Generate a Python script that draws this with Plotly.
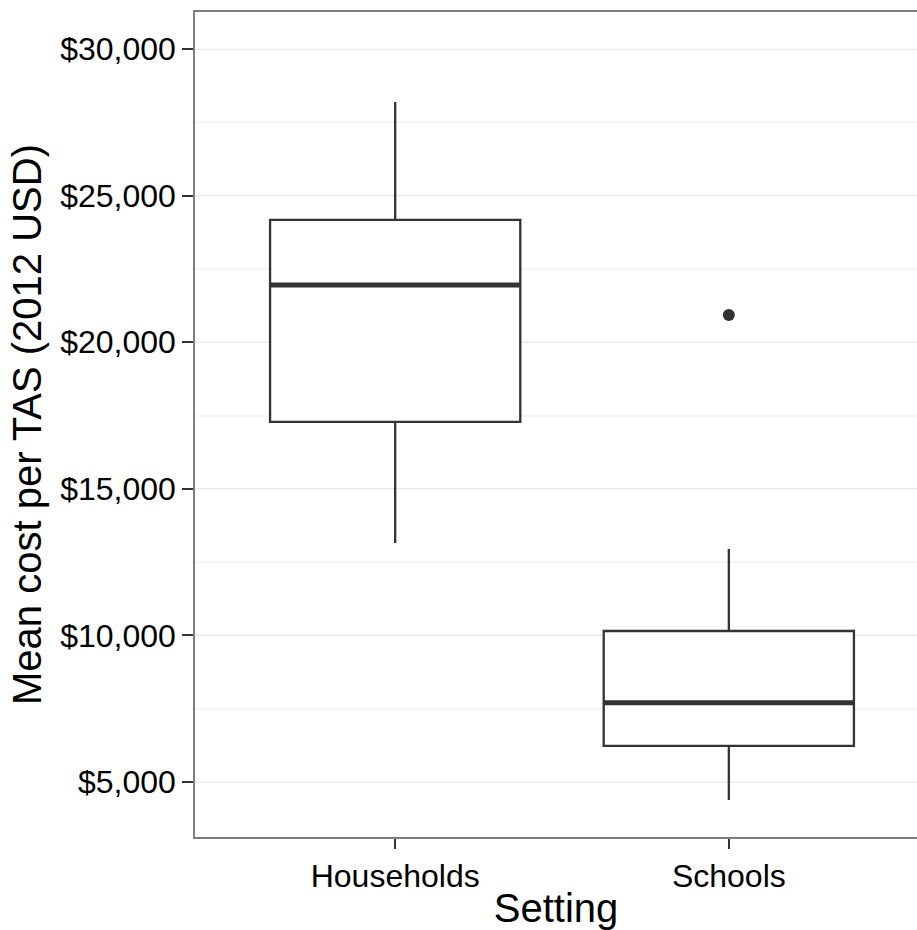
import plotly.graph_objects as go

categories = ["Households", "Schools"]
lower_whisker = [13150, 4390]
q1 = [17280, 6230]
median = [21950, 7700]
q3 = [24170, 10150]
upper_whisker = [28190, 12950]
outlier_x = ["Schools"]
outlier_y = [20930]
y_tick_values = [5000, 10000, 15000, 20000, 25000, 30000]
y_tick_labels = ["$5,000", "$10,000", "$15,000", "$20,000", "$25,000", "$30,000"]

xpos = list(range(len(categories)))
box_w = 0.75
line_col = "#333333"
font_fam = "Liberation Sans, Arial, sans-serif"

fig = go.Figure()
fig.add_trace(go.Box(
    x=xpos, q1=q1, median=median, q3=q3,
    lowerfence=lower_whisker, upperfence=upper_whisker,
    width=box_w, whiskerwidth=0, fillcolor="white",
    line=dict(color=line_col, width=2.3), boxpoints=False,
    showlegend=False, hoverinfo="skip",
))

mx, my = [], []
for i, m in zip(xpos, median):
    mx += [i - box_w / 2, i + box_w / 2, None]
    my += [m, m, None]
fig.add_trace(go.Scatter(x=mx, y=my, mode="lines",
                         line=dict(color=line_col, width=5),
                         showlegend=False, hoverinfo="skip"))

fig.add_trace(go.Scatter(x=[categories.index(c) for c in outlier_x], y=outlier_y,
                         mode="markers",
                         marker=dict(color=line_col, size=12),
                         showlegend=False, hoverinfo="skip"))

fig.update_layout(
    width=917, height=930,
    margin=dict(l=195, r=0, t=12, b=93),
    paper_bgcolor="white", plot_bgcolor="white",
    font=dict(family=font_fam, color="black"),
    xaxis=dict(
        range=[-0.6, 1.564], tickvals=xpos, ticktext=categories,
        showgrid=False, zeroline=False,
        showline=True, mirror=True, linecolor="#7f7f7f", linewidth=1.5,
        ticks="outside", ticklen=10, tickwidth=2, tickcolor=line_col,
        tickfont=dict(size=32, color="black"),
        title=dict(text="Setting", font=dict(size=40, color="black"), standoff=6),
    ),
    yaxis=dict(
        range=[3124, 31262], tickvals=y_tick_values, ticktext=y_tick_labels,
        showgrid=True, gridcolor="#e8e8e8", gridwidth=1,
        minor=dict(dtick=2500, tick0=0, showgrid=True, gridcolor="#f6f6f6", gridwidth=1.5),
        zeroline=False,
        showline=True, mirror=False, linecolor="#7f7f7f", linewidth=1.5,
        ticks="outside", ticklen=11, tickwidth=2, tickcolor=line_col,
        tickfont=dict(size=32, color="black"),
        title=dict(text="Mean cost per TAS (2012 USD)", font=dict(size=40, color="black"), standoff=6),
    ),
)

fig.write_html("out.html")
